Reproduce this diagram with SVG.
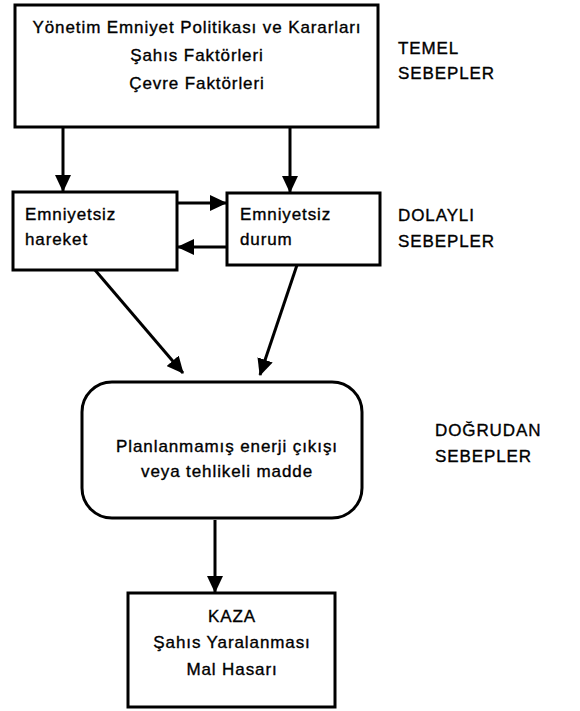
<svg xmlns="http://www.w3.org/2000/svg" width="580" height="711" viewBox="0 0 580 711">
<style>
  .box { fill: #fff; stroke: #000; stroke-width: 3; }
  .t { font-family: "Liberation Sans", Arial, sans-serif; font-size: 17px; letter-spacing: 0.9px; fill: #000; stroke: #000; stroke-width: 0.35; }
  .c { text-anchor: middle; }
  .edge { stroke: #000; stroke-width: 3; fill: none; marker-end: url(#ah); }
</style>
<defs>
  <marker id="ah" markerWidth="17" markerHeight="16" refX="16" refY="8" orient="auto" markerUnits="userSpaceOnUse">
    <path d="M0,0 L17,8 L0,16 Z" fill="#000"/>
  </marker>
</defs>
<rect width="580" height="711" fill="#fff"/>

<g id="connectors">
  <line class="edge" x1="63" y1="127" x2="63" y2="191"/>
  <line class="edge" x1="290" y1="127" x2="290" y2="192"/>
  <line class="edge" x1="177" y1="203" x2="226" y2="203"/>
  <line class="edge" x1="227" y1="247" x2="178" y2="247"/>
  <line class="edge" x1="95" y1="270" x2="183" y2="373"/>
  <line class="edge" x1="297" y1="265" x2="260" y2="375"/>
  <line class="edge" x1="215" y1="520" x2="215" y2="592"/>
</g>

<g id="temel">
  <rect class="box" x="15" y="5" width="363" height="122"/>
  <text class="t c" x="197" y="33">Yönetim Emniyet Politikası ve Kararları</text>
  <text class="t c" x="197" y="61">Şahıs Faktörleri</text>
  <text class="t c" x="197" y="89">Çevre Faktörleri</text>
</g>

<g id="hareket">
  <rect class="box" x="13" y="192" width="164" height="78"/>
  <text class="t" x="25" y="220">Emniyetsiz</text>
  <text class="t" x="25" y="245">hareket</text>
</g>

<g id="durum">
  <rect class="box" x="227" y="193" width="153" height="72"/>
  <text class="t" x="240" y="220">Emniyetsiz</text>
  <text class="t" x="240" y="245">durum</text>
</g>

<g id="enerji">
  <rect class="box" x="82" y="382" width="280" height="136" rx="30" ry="30"/>
  <text class="t c" x="227" y="452">Planlanmamış enerji çıkışı</text>
  <text class="t c" x="227" y="477">veya tehlikeli madde</text>
</g>

<g id="kaza">
  <rect class="box" x="128" y="593" width="207" height="114"/>
  <text class="t c" x="232" y="622">KAZA</text>
  <text class="t c" x="232" y="648">Şahıs Yaralanması</text>
  <text class="t c" x="232" y="675">Mal Hasarı</text>
</g>

<g id="labels">
  <text class="t" x="398" y="54">TEMEL</text>
  <text class="t" x="398" y="79">SEBEPLER</text>
  <text class="t" x="398" y="221">DOLAYLI</text>
  <text class="t" x="398" y="247">SEBEPLER</text>
  <text class="t" x="435" y="436">DOĞRUDAN</text>
  <text class="t" x="435" y="462">SEBEPLER</text>
</g>
</svg>
